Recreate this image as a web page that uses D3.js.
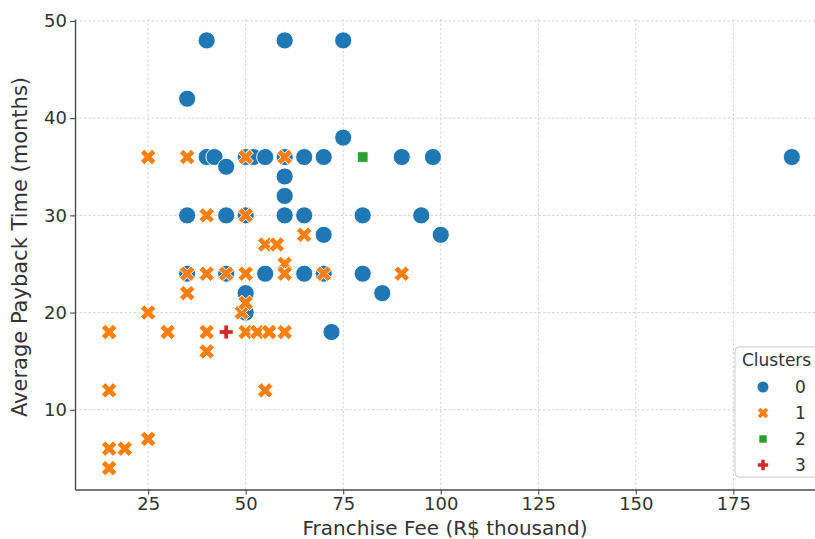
<!DOCTYPE html>
<html>
<head>
<meta charset="utf-8">
<script src="https://cdn.jsdelivr.net/npm/d3@7"></script>
<style>
  body { margin: 0; background: #fff; }
  text { font-family: "DejaVu Sans", sans-serif; fill: #333; }
</style>
</head>
<body>
<div class="chart"></div>
<script>
// Data: [franchise fee (R$ thousand), payback time (months)]
var cluster0 = [
  [40, 48], [60, 48], [75, 48], [35, 42], [75, 38],
  [40, 36], [42, 36], [50, 36], [52, 36], [55, 36], [60, 36], [65, 36], [70, 36], [90, 36], [98, 36], [190, 36],
  [45, 35], [60, 34], [60, 32],
  [35, 30], [45, 30], [50, 30], [60, 30], [65, 30], [80, 30], [95, 30],
  [70, 28], [100, 28],
  [35, 24], [45, 24], [55, 24], [65, 24], [70, 24], [80, 24],
  [50, 22], [85, 22], [50, 20], [72, 18]
];
var cluster1 = [
  [25, 36], [35, 36], [50, 36], [60, 36],
  [40, 30], [50, 30],
  [65, 28], [55, 27], [58, 27], [60, 25],
  [35, 24], [40, 24], [45, 24], [50, 24], [60, 24], [70, 24], [90, 24],
  [35, 22], [25, 20], [49, 20], [50, 21],
  [15, 18], [30, 18], [40, 18], [50, 18], [53, 18], [56, 18], [60, 18],
  [40, 16], [15, 12], [55, 12], [25, 7], [15, 6], [19, 6], [15, 4]
];
var cluster2 = [[80, 36]];
var cluster3 = [[45, 18]];

var clusterLabels = ["0", "1", "2", "3"];
var xTicks = [25, 50, 75, 100, 125, 150, 175];
var yTicks = [10, 20, 30, 40, 50];

var colors = ["#1f77b4", "#ff7f0e", "#2ca02c", "#d62728"];

// Step 1: chart setup
var svgWidth = 815;
var svgHeight = 539;
var plot = { left: 75, right: 826, top: 19, bottom: 489.5 };

var svg = d3.select(".chart").append("svg")
  .attr("width", svgWidth)
  .attr("height", svgHeight);

// Step 2: scales
var xScale = d3.scaleLinear().domain([6.25, 198.75]).range([plot.left, plot.right]);
var yScale = d3.scaleLinear().domain([1.8, 50.2]).range([plot.bottom, plot.top]);

// Step 3: grid
var grid = svg.append("g");
grid.selectAll(".vgrid").data(xTicks).enter().append("line")
  .attr("x1", d => xScale(d)).attr("x2", d => xScale(d))
  .attr("y1", plot.top).attr("y2", plot.bottom)
  .attr("stroke", "#cfcfcf").attr("stroke-width", 0.9).attr("stroke-dasharray", "2.5,2");
grid.selectAll(".hgrid").data(yTicks).enter().append("line")
  .attr("x1", plot.left).attr("x2", plot.right)
  .attr("y1", d => yScale(d)).attr("y2", d => yScale(d))
  .attr("stroke", "#cfcfcf").attr("stroke-width", 0.9).attr("stroke-dasharray", "2.5,2");

// Step 4: axes
var bottomAxis = d3.axisBottom(xScale).tickValues(xTicks).tickSize(5).tickPadding(3).tickSizeOuter(0);
var leftAxis = d3.axisLeft(yScale).tickValues(yTicks).tickSize(5).tickPadding(3).tickSizeOuter(0);

var xAxis = svg.append("g").attr("transform", `translate(0, ${plot.bottom})`).call(bottomAxis);
var yAxis = svg.append("g").attr("transform", `translate(${plot.left}, 0)`).call(leftAxis);

[xAxis, yAxis].forEach(function(ax) {
  ax.select(".domain").attr("stroke", "#4a4a4a").attr("stroke-width", 1.4);
  ax.selectAll(".tick line").attr("stroke", "#4a4a4a").attr("stroke-width", 1.1);
  ax.selectAll(".tick text").style("font-size", "18px").style("font-family", "DejaVu Sans").attr("fill", "#333");
});

// Step 5: points
var shapes = [
  { type: d3.symbolCircle, size: 230, rot: 0 },
  { type: d3.symbolCross, size: 150, rot: 45 },
  { type: d3.symbolSquare, size: 115, rot: 0 },
  { type: d3.symbolCross, size: 110, rot: 0 }
];

var clipId = "plotclip";
svg.append("clipPath").attr("id", clipId).append("rect")
  .attr("x", plot.left).attr("y", plot.top - 10)
  .attr("width", plot.right - plot.left).attr("height", plot.bottom - plot.top + 10);

var pointsGroup = svg.append("g").attr("clip-path", `url(#${clipId})`);

[cluster0, cluster1, cluster2, cluster3].forEach(function(data, i) {
  var sym = d3.symbol().type(shapes[i].type).size(shapes[i].size);
  pointsGroup.selectAll(".c" + i).data(data).enter().append("path")
    .attr("class", "c" + i)
    .attr("d", sym)
    .attr("transform", d => `translate(${xScale(d[0])}, ${yScale(d[1])}) rotate(${shapes[i].rot})`)
    .attr("fill", colors[i])
    .attr("stroke", "#fff")
    .attr("stroke-width", 0.9);
});

// Step 6: axis labels
svg.append("text")
  .attr("x", 445).attr("y", 535)
  .attr("text-anchor", "middle")
  .style("font-size", "20px")
  .text("Franchise Fee (R$ thousand)");

svg.append("text")
  .attr("transform", "translate(27, 247) rotate(-90)")
  .attr("text-anchor", "middle")
  .style("font-size", "21px")
  .text("Average Payback Time (months)");

// Step 7: legend
var legend = svg.append("g");
legend.append("rect")
  .attr("x", 735).attr("y", 347).attr("width", 100).attr("height", 130).attr("rx", 4)
  .attr("fill", "#fff").attr("fill-opacity", 0.85)
  .attr("stroke", "#cccccc").attr("stroke-width", 1);
legend.append("text")
  .attr("x", 742).attr("y", 366)
  .style("font-size", "17px")
  .text("Clusters");

var legendSizes = [95, 70, 55, 60];
clusterLabels.forEach(function(label, i) {
  var cy = 387 + i * 26;
  legend.append("path")
    .attr("d", d3.symbol().type(shapes[i].type).size(legendSizes[i]))
    .attr("transform", `translate(763, ${cy}) rotate(${shapes[i].rot})`)
    .attr("fill", colors[i]);
  legend.append("text")
    .attr("x", 795).attr("y", cy + 6)
    .style("font-size", "17px")
    .text(label);
});
</script>
</body>
</html>
